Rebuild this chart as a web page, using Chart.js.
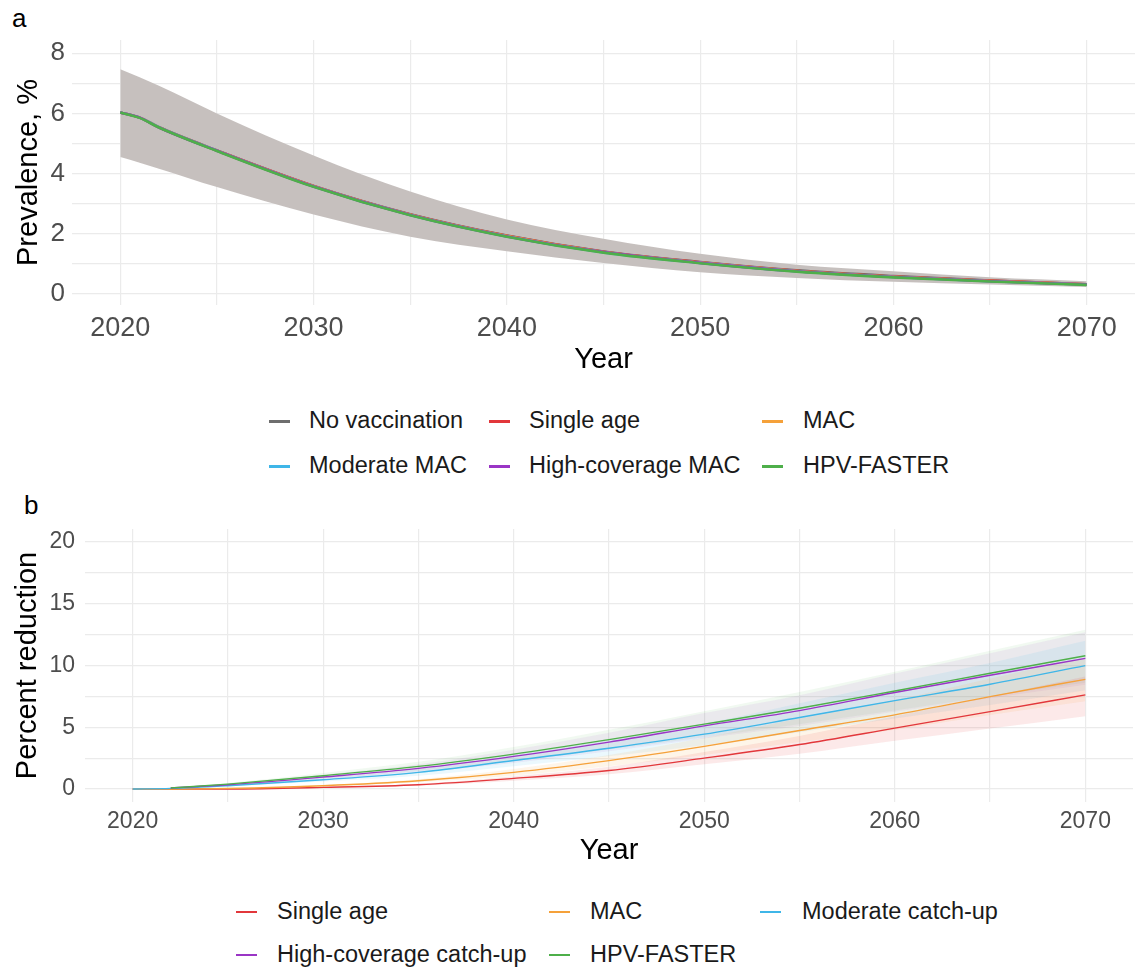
<!DOCTYPE html>
<html><head><meta charset="utf-8">
<script src="https://cdn.jsdelivr.net/npm/chart.js@4.4.1/dist/chart.umd.min.js"></script>
<style>
body{margin:0;background:#fff;width:1135px;height:969px;overflow:hidden;position:relative;font-family:"Liberation Sans",Arial,sans-serif;}
.wrap{position:absolute;left:0;width:1135px;height:380px;}
.plab{position:absolute;font-size:26px;color:#000;line-height:1;}
.ltxt{position:absolute;font-size:23.5px;color:#1a1a1a;white-space:nowrap;line-height:1;transform:translateY(-50%);}
.lkey{position:absolute;}
</style></head><body>
<div class="plab" style="left:12px;top:5px;">a</div>
<div class="plab" style="left:24px;top:492px;">b</div>
<div class="wrap" style="top:0px;"><canvas id="ca" width="1135" height="380"></canvas></div>
<div class="wrap" style="top:490px;"><canvas id="cb" width="1135" height="380"></canvas></div>
<div id="legA"></div>
<div id="legB"></div>
<script>
// ---------- Panel a: prevalence (%) ----------
const yearsA = [2020, 2021, 2022, 2025, 2030, 2035, 2040, 2045, 2050, 2055, 2060, 2065, 2070];
const prevNoVac    = [6.03, 5.86, 5.54, 4.77, 3.59, 2.65, 1.94, 1.41, 1.06, 0.78, 0.59, 0.44, 0.32];
const prevSingle   = [6.03, 5.86, 5.54, 4.77, 3.59, 2.64, 1.93, 1.40, 1.05, 0.77, 0.58, 0.44, 0.32];
const prevMAC      = [6.03, 5.86, 5.54, 4.76, 3.58, 2.63, 1.92, 1.39, 1.04, 0.76, 0.57, 0.43, 0.31];
const prevModerate = [6.03, 5.86, 5.54, 4.76, 3.57, 2.62, 1.91, 1.38, 1.03, 0.75, 0.56, 0.42, 0.31];
const prevHighCov  = [6.03, 5.86, 5.53, 4.76, 3.57, 2.62, 1.91, 1.39, 1.03, 0.75, 0.56, 0.42, 0.31];
const prevFaster   = [6.03, 5.85, 5.53, 4.75, 3.56, 2.61, 1.90, 1.37, 1.02, 0.74, 0.55, 0.41, 0.30];
const prevBandLow  = [4.55, 4.36, 4.16, 3.55, 2.64, 1.90, 1.42, 1.03, 0.72, 0.53, 0.40, 0.31, 0.23];
const prevBandHigh = [7.47, 7.20, 6.92, 6.00, 4.60, 3.40, 2.47, 1.83, 1.33, 0.97, 0.75, 0.55, 0.42];
const namesA = ["No vaccination", "Single age", "MAC", "Moderate MAC", "High-coverage MAC", "HPV-FASTER"];
const colorsA = ["#6e6e6e", "#e2373b", "#f5a13a", "#3fb6e8", "#9a35c5", "#4eaf4a"];
const valsA = [prevNoVac, prevSingle, prevMAC, prevModerate, prevHighCov, prevFaster];
const gridYA = [0, 1, 2, 3, 4, 5, 6, 7, 8];
const labelYA = [0, 2, 4, 6, 8];

// ---------- Panel b: percent reduction ----------
const yearsB = [2020, 2022, 2025, 2030, 2035, 2040, 2045, 2050, 2055, 2060, 2065, 2070];
const redSingle    = [0, 0, 0, 0.13, 0.35, 0.86, 1.50, 2.50, 3.60, 4.93, 6.27, 7.62];
const redMAC       = [0, 0, 0.05, 0.27, 0.67, 1.35, 2.30, 3.45, 4.74, 6.00, 7.48, 8.88];
const redModerate  = [0, 0.05, 0.27, 0.75, 1.35, 2.31, 3.30, 4.44, 5.79, 7.16, 8.48, 9.99];
const redHighCov   = [null, 0.08, 0.35, 0.97, 1.67, 2.64, 3.80, 5.11, 6.35, 7.81, 9.21, 10.58];
const redFaster    = [null, 0.08, 0.40, 1.08, 1.83, 2.83, 4.00, 5.25, 6.54, 7.94, 9.37, 10.79];
const lowSingle    = [0, 0, 0, 0.10, 0.28, 0.68, 1.20, 2.00, 2.85, 3.90, 4.90, 5.90];
const highSingle   = [0, 0, 0, 0.16, 0.42, 1.04, 1.80, 3.00, 4.30, 5.90, 7.50, 9.10];
const lowMAC       = [0, 0, 0.04, 0.22, 0.54, 1.08, 1.85, 2.75, 3.80, 4.80, 6.00, 7.10];
const highMAC      = [0, 0, 0.06, 0.32, 0.80, 1.62, 2.75, 4.15, 5.70, 7.20, 8.95, 10.60];
const lowModerate  = [0, 0.04, 0.22, 0.60, 1.08, 1.85, 2.65, 3.55, 4.60, 5.70, 6.80, 8.00];
const highModerate = [0, 0.06, 0.32, 0.90, 1.62, 2.77, 3.95, 5.30, 6.95, 8.60, 10.20, 12.00];
const lowHighCov   = [null, 0.06, 0.28, 0.78, 1.34, 2.10, 3.05, 4.10, 5.10, 6.25, 7.35, 8.45];
const highHighCov  = [null, 0.10, 0.42, 1.16, 2.00, 3.17, 4.55, 6.15, 7.60, 9.35, 11.00, 12.70];
const lowFaster    = [null, 0.06, 0.32, 0.86, 1.46, 2.26, 3.20, 4.20, 5.25, 6.35, 7.50, 8.60];
const highFaster   = [null, 0.10, 0.48, 1.30, 2.20, 3.40, 4.80, 6.30, 7.85, 9.50, 11.20, 12.90];
const namesB = ["Single age", "MAC", "Moderate catch-up", "High-coverage catch-up", "HPV-FASTER"];
const colorsB = ["#e2373b", "#f5a13a", "#3fb6e8", "#9a35c5", "#4eaf4a"];
const ribbonB = ["rgba(226,55,59,0.11)", "rgba(245,161,58,0.11)", "rgba(63,182,232,0.10)", "rgba(154,53,197,0.08)", "rgba(78,175,74,0.08)"];
const valsB = [redSingle, redMAC, redModerate, redHighCov, redFaster];
const lowsB = [lowSingle, lowMAC, lowModerate, lowHighCov, lowFaster];
const highsB = [highSingle, highMAC, highModerate, highHighCov, highFaster];
const gridYB = [0, 2.5, 5, 7.5, 10, 12.5, 15, 17.5, 20];
const labelYB = [0, 5, 10, 15, 20];

const gridX = [2020, 2025, 2030, 2035, 2040, 2045, 2050, 2055, 2060, 2065, 2070];
const labelX = [2020, 2030, 2040, 2050, 2060, 2070];

const FONT = "'Liberation Sans', Arial, sans-serif";
Chart.defaults.font.family = FONT;
Chart.defaults.animation = false;

function pts(xs, arr){ return xs.map((x,i)=>({x:x, y:arr[i]})); }

function xScale(h, tickSize, tickPad, titlePadB){
  return {
    type:'linear', min:2017.5, max:2072.5,
    afterBuildTicks:(s)=>{ s.ticks = gridX.map(v=>({value:v})); },
    ticks:{autoSkip:false, maxRotation:0, color:'#4d4d4d',
      font:{size:tickSize}, padding:tickPad,
      callback:(v)=> labelX.includes(v) ? String(v) : ''},
    grid:{color:'#ebebeb', lineWidth:1.2, drawTicks:false},
    border:{display:false},
    title:{display:true, text:'Year', color:'#000', font:{size:29}, padding:{top:0,bottom:titlePadB}},
    afterFit:(s)=>{ s.height = h; }
  };
}
function yScale(w, min, max, grid, labels, tickSize, tickPad, title, titlePadT){
  return {
    type:'linear', min:min, max:max,
    afterBuildTicks:(s)=>{ s.ticks = grid.map(v=>({value:v})); },
    ticks:{autoSkip:false, color:'#4d4d4d',
      font:{size:tickSize}, padding:tickPad,
      callback:(v)=> labels.includes(v) ? String(v) : ''},
    grid:{color:'#ebebeb', lineWidth:1.2, drawTicks:false},
    border:{display:false},
    title:{display:true, text:title, color:'#000', font:{size:29}, padding:{top:titlePadT,bottom:0}},
    afterFit:(s)=>{ s.width = w; }
  };
}

// ---- chart a ----
const dsA = [];
namesA.forEach((n,i)=>{
  dsA.push({label:n, data:pts(yearsA, valsA[i]), borderColor:colorsA[i], borderWidth:2.6,
    pointRadius:0, fill:false, cubicInterpolationMode:'monotone', order: namesA.length - i});
});
const idxLowA = dsA.length;
dsA.push({label:'band-low', data:pts(yearsA, prevBandLow), borderWidth:0, pointRadius:0, fill:false, cubicInterpolationMode:'monotone', order:20});
dsA.push({label:'band-high', data:pts(yearsA, prevBandHigh), borderWidth:0, pointRadius:0, fill:idxLowA,
  backgroundColor:'rgba(196,189,187,0.96)', cubicInterpolationMode:'monotone', order:20});

new Chart(document.getElementById('ca'), {
  type:'line',
  data:{datasets:dsA},
  options:{
    responsive:false, animation:false,
    layout:{padding:{top:40, right:0, bottom:0, left:0}},
    plugins:{legend:{display:false}, tooltip:{enabled:false}},
    scales:{
      x: xScale(75, 27, 7, 3),
      y: yScale(72, -0.37, 8.44, gridYA, labelYA, 26, 7, 'Prevalence, %', 12)
    }
  }
});

// ---- chart b ----
const dsB = [];
namesB.forEach((n,i)=>{
  dsB.push({label:n, data:pts(yearsB, valsB[i]), borderColor:colorsB[i], borderWidth:1.4,
    pointRadius:0, fill:false, cubicInterpolationMode:'monotone', order: namesB.length - i});
});
namesB.forEach((n,i)=>{
  const li = dsB.length;
  dsB.push({label:n+' low', data:pts(yearsB, lowsB[i]), borderWidth:0, pointRadius:0, fill:false, cubicInterpolationMode:'monotone', order:20});
  dsB.push({label:n+' high', data:pts(yearsB, highsB[i]), borderWidth:0, pointRadius:0, fill:li,
    backgroundColor:ribbonB[i], cubicInterpolationMode:'monotone', order:20});
});

new Chart(document.getElementById('cb'), {
  type:'line',
  data:{datasets:dsB},
  options:{
    responsive:false, animation:false,
    layout:{padding:{top:39, right:2, bottom:0, left:0}},
    plugins:{legend:{display:false}, tooltip:{enabled:false}},
    scales:{
      x: xScale(68, 23, 6, 2),
      y: yScale(85, -1.05, 21.05, gridYB, labelYB, 23, 10, 'Percent reduction', 11)
    }
  }
});

// ---- HTML legends ----
function legend(el, names, colors, keyX, textX, rowY, perRow, thick){
  names.forEach((n,i)=>{
    const r = Math.floor(i/perRow), c = i % perRow;
    const y = rowY[r];
    const k = document.createElement('div');
    k.className='lkey';
    k.style.left = keyX[c]+'px'; k.style.width='21px';
    k.style.top = (y - thick/2)+'px'; k.style.height = thick+'px';
    k.style.background = colors[i];
    el.appendChild(k);
    const t = document.createElement('div');
    t.className='ltxt';
    t.style.left = textX[c]+'px'; t.style.top = y+'px';
    t.textContent = n;
    el.appendChild(t);
  });
}
legend(document.getElementById('legA'), namesA, colorsA, [269, 489, 762], [309, 529, 803], [421, 466], 3, 3);
legend(document.getElementById('legB'), namesB, colorsB, [236, 549, 760], [277, 590, 802], [912, 955], 3, 1.5);
</script>
</body></html>
